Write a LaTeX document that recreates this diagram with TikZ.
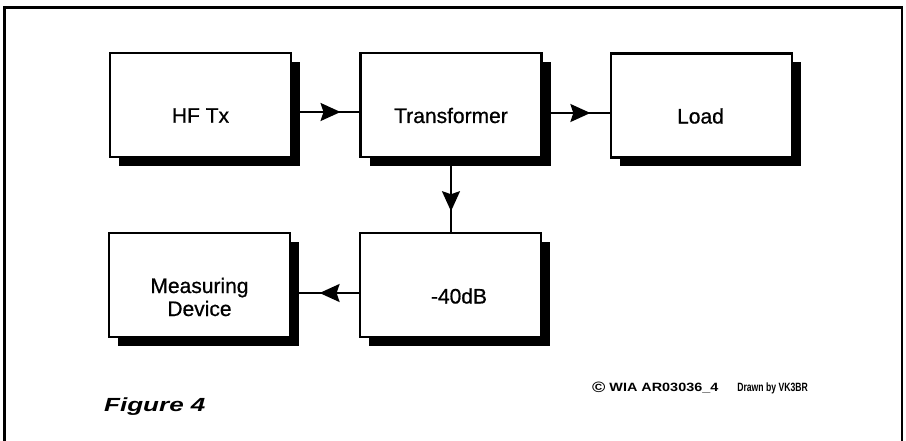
\documentclass[tikz,border=0pt]{standalone}
\usepackage{fontspec}
\setmainfont{Liberation Sans}
\newfontfamily\medsans[FakeBold=0.7]{Liberation Sans}
\usetikzlibrary{arrows.meta,decorations.markings,shadows}
\begin{document}
\begin{tikzpicture}[x=1pt,y=-1pt,
  blk/.style={draw=black, line width=2.3pt, fill=white, minimum width=181pt,
    minimum height=104pt, inner sep=0pt,
    drop shadow={shadow xshift=9pt, shadow yshift=-9pt, fill=black, opacity=1}},
  lbl/.style={font=\medsans\fontsize{21}{23}\selectfont, align=center, inner sep=0pt},
  flow/.style={line width=2pt, postaction={decorate},
    decoration={markings, mark=at position #1 with {\arrow{Stealth[length=20pt,width=18pt,inset=3pt]}}}},
]
\useasboundingbox (0,0) rectangle (906,441);
% frame
\draw[line width=2.8pt] (4.5,441) -- (4.5,7.5) -- (902,7.5) -- (902,441);

% blocks
\node[blk] (hf) at (200.5,105) {};
\node[blk] (tr) at (451,105) {};
\node[blk] (ld) at (701.5,105.5) {};
\node[blk] (md) at (199.5,285) {};
\node[blk] (db) at (450.5,285) {};

% labels
\node[lbl] (thf) at ([yshift=-10.5pt]hf.center) {HF Tx};
\node[lbl] (ttr) at ([yshift=-10.5pt]tr.center) {Transformer};
\node[lbl] (tld) at ([yshift=-10.5pt,xshift=-1pt]ld.center) {Load};
\node[lbl] (tmd) at ([yshift=-12pt]md.center) {Measuring\\Device};
\node[lbl] (tdb) at ([yshift=-11pt,xshift=8.5pt]db.center) {-40dB};

% connectors
\draw[flow=0.72] ([yshift=-7pt]hf.east) -- ([yshift=-7pt]tr.west);
\draw[flow=0.71] ([yshift=-8pt]tr.east) -- ([yshift=-7.5pt]ld.west);
\draw[flow=0.72] (tr.south) -- (tr.south |- db.north);
\draw[flow=0.58] ([yshift=-8pt]db.west) -- ([yshift=-8pt]db.west -| md.east);

% captions
\node[anchor=base west, inner sep=0pt, font=\fontsize{19}{21}\selectfont\bfseries\itshape]
  (fig) at (104,411) {\scalebox{1.37}[1]{Figure 4}};
\node[anchor=base west, inner sep=0pt, font=\fontsize{12}{14}\selectfont\bfseries]
  (copy) at (592,391) {\scalebox{1.2}[1]{{\fontsize{15}{15}\selectfont\raisebox{-1pt}{©}} WIA AR03036\_4}\hspace{19pt}\scalebox{0.72}[1]{Drawn by VK3BR}};
\end{tikzpicture}
\end{document}
